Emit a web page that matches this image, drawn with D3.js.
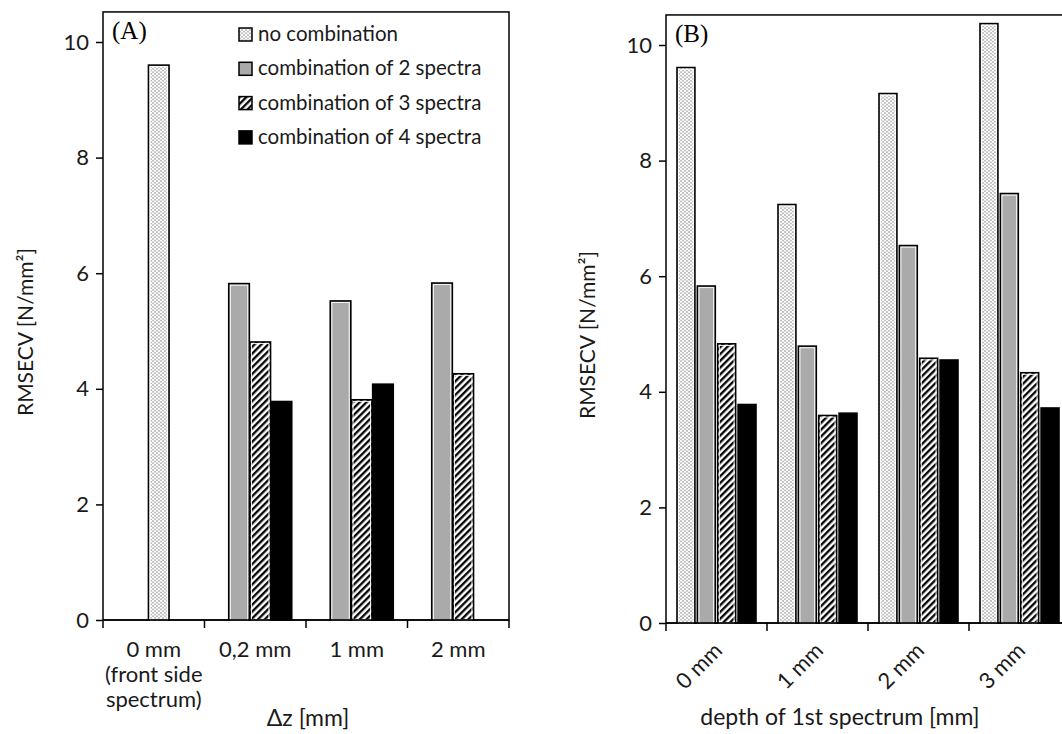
<!DOCTYPE html>
<html>
<head>
<meta charset="utf-8">
<script src="https://cdn.jsdelivr.net/npm/d3@7"></script>
<style>
    body {margin: 0; background: #fff;}
    text {font-family: Lato, "Open Sans", sans-serif; fill: #1a1a1a;}
    .panel_label {font-family: "Liberation Serif", serif; fill: #000;}
</style>
</head>
<body>
<div id="chart"></div>
<script>
// categories
var catsA = ["0 mm", "0,2 mm", "1 mm", "2 mm"];
var catsALines = [["0 mm", "(front side", "spectrum)"], ["0,2 mm"], ["1 mm"], ["2 mm"]];
var catsB = ["0 mm", "1 mm", "2 mm", "3 mm"];
var seriesNames = ["no combination", "combination of 2 spectra", "combination of 3 spectra", "combination of 4 spectra"];

// (A) RMSECV per delta z
var noCombA = [9.60, null, null, null];
var comb2A = [null, 5.82, 5.52, 5.83];
var comb3A = [null, 4.81, 3.81, 4.26];
var comb4A = [null, 3.78, 4.08, null];

// (B) RMSECV per depth of 1st spectrum
var noCombB = [9.61, 7.24, 9.16, 10.37];
var comb2B = [5.83, 4.79, 6.53, 7.43];
var comb3B = [4.83, 3.59, 4.58, 4.33];
var comb4B = [3.78, 3.63, 4.55, 3.72];

var yTicks = [0, 2, 4, 6, 8, 10];

var width = 1062;
var height = 734;

var svg = d3.select("#chart").append("svg").attr("width", width).attr("height", height);

// patterns
var defs = svg.append("defs");
var dots = defs.append("pattern").attr("id", "dots")
    .attr("patternUnits", "userSpaceOnUse").attr("width", 4).attr("height", 3.4);
dots.append("rect").attr("width", 4).attr("height", 3.4).attr("fill", "#fff");
dots.append("circle").attr("cx", 1).attr("cy", 0.85).attr("r", 0.55).attr("fill", "#333");
dots.append("circle").attr("cx", 3).attr("cy", 2.55).attr("r", 0.55).attr("fill", "#333");

var hatch = defs.append("pattern").attr("id", "hatch")
    .attr("patternUnits", "userSpaceOnUse").attr("width", 4.8).attr("height", 4.8)
    .attr("patternTransform", "rotate(45)");
hatch.append("rect").attr("width", 4.8).attr("height", 4.8).attr("fill", "#fff");
hatch.append("line").attr("x1", 1.2).attr("x2", 1.2).attr("y1", 0).attr("y2", 4.8)
    .attr("stroke", "#000").attr("stroke-width", 2.3);

var fills = ["url(#dots)", "#aaaaaa", "url(#hatch)", "#000"];

function drawPanel(opt) {
    var g = svg.append("g");

    var y = d3.scaleLinear().domain([0, 10]).range([opt.yBottom, opt.y10]);
    var xb = d3.scaleBand().domain(opt.cats).range([opt.x0, opt.x1]);
    var xs = d3.scaleBand().domain(d3.range(opt.nSlots)).range([0, opt.groupWidth]).paddingInner(opt.pad);
    var off = (xb.bandwidth() - opt.groupWidth) / 2 + opt.shift;

    var yTop = y(10.52);

    // frame
    g.append("rect")
        .attr("x", opt.x0).attr("y", yTop)
        .attr("width", opt.x1 - opt.x0).attr("height", opt.yBottom - yTop)
        .attr("fill", "none").attr("stroke", "#000").attr("stroke-width", 1.5);

    // bars
    var bars = [];
    opt.values.forEach(function (arr, s) {
        arr.forEach(function (v, i) {
            if (v !== null) bars.push({s: s, i: i, v: v});
        });
    });

    var bx = function (d) { return xb(opt.cats[d.i]) + off + xs(opt.slotOf[d.s]); };

    g.selectAll(".bar").data(bars).enter().append("rect")
        .attr("class", "bar")
        .attr("x", bx)
        .attr("y", function (d) { return y(d.v); })
        .attr("width", xs.bandwidth())
        .attr("height", function (d) { return opt.yBottom - y(d.v); })
        .attr("fill", function (d) { return fills[d.s]; })
        .attr("stroke", "#000").attr("stroke-width", 1.6);

    g.selectAll(".bar_in").data(bars.filter(function (d) { return d.s !== 3; })).enter().append("rect")
        .attr("class", "bar_in")
        .attr("x", function (d) { return bx(d) + 1.6; })
        .attr("y", function (d) { return y(d.v) + 1.6; })
        .attr("width", xs.bandwidth() - 3.2)
        .attr("height", function (d) { return opt.yBottom - y(d.v) - 1.6; })
        .attr("fill", "none").attr("stroke", "#fff").attr("stroke-width", 0.9);

    // y axis
    var yAxis = g.append("g").attr("transform", "translate(" + opt.x0 + ",0)")
        .call(d3.axisLeft(y).tickValues(yTicks).tickSize(7).tickPadding(7));
    yAxis.select(".domain").remove();
    yAxis.selectAll("line").attr("stroke", "#000").attr("stroke-width", 1.5);
    yAxis.selectAll("text").attr("font-size", "22px").attr("font-family", "Lato").attr("fill", "#1a1a1a");

    // x axis line and category separators
    g.append("line").attr("x1", opt.x0).attr("x2", opt.x1)
        .attr("y1", opt.yBottom).attr("y2", opt.yBottom)
        .attr("stroke", "#000").attr("stroke-width", 1.5);
    var edges = opt.cats.map(function (c) { return xb(c); }).concat([xb.range()[1]]);
    g.selectAll(".xtick").data(edges).enter().append("line")
        .attr("class", "xtick")
        .attr("x1", function (d) { return d; }).attr("x2", function (d) { return d; })
        .attr("y1", opt.yBottom).attr("y2", opt.yBottom + 8)
        .attr("stroke", "#000").attr("stroke-width", 1.5);

    // y title
    g.append("text")
        .attr("transform", "translate(" + opt.yTitleX + "," + opt.yTitleY + ") rotate(-90)")
        .attr("text-anchor", "middle").attr("font-size", "21px")
        .text("RMSECV [N/mm²]");

    // panel label
    g.append("text").attr("class", "panel_label")
        .attr("x", opt.x0 + 9).attr("y", yTop + 27)
        .attr("font-size", "25px")
        .text(opt.label);

    return {g: g, xb: xb, y: y};
}

// panel A
var pA = drawPanel({
    cats: catsA, values: [noCombA, comb2A, comb3A, comb4A],
    x0: 103, x1: 509, yBottom: 620, y10: 42,
    nSlots: 3, slotOf: [1, 0, 1, 2], groupWidth: 63, pad: 0.03, shift: 5,
    yTitleX: 33, yTitleY: 332, label: "(A)"
});

pA.g.selectAll(".xlab").data(catsA).enter().append("text")
    .attr("class", "xlab")
    .attr("text-anchor", "middle")
    .attr("font-size", "22px")
    .each(function (d, i) {
        var t = d3.select(this);
        catsALines[i].forEach(function (line, k) {
            t.append("tspan")
                .attr("x", pA.xb(d) + pA.xb.bandwidth() / 2)
                .attr("y", 657 + k * 25)
                .text(line);
        });
    });

pA.g.append("text").attr("x", 308).attr("y", 726)
    .attr("text-anchor", "middle").attr("font-size", "23px")
    .text("Δz [mm]");

// legend
var legend = pA.g.selectAll(".legend").data(seriesNames).enter().append("g")
    .attr("class", "legend")
    .attr("transform", function (d, i) { return "translate(239," + (41 + i * 34.3) + ")"; });
legend.append("rect")
    .attr("x", 0).attr("y", -13).attr("width", 13).attr("height", 13)
    .attr("fill", function (d, i) { return fills[i]; })
    .attr("stroke", "#000").attr("stroke-width", 1.5);
legend.append("text")
    .attr("x", 19).attr("y", 0)
    .attr("font-size", "20.5px")
    .text(function (d) { return d; });

// panel B
var pB = drawPanel({
    cats: catsB, values: [noCombB, comb2B, comb3B, comb4B],
    x0: 666, x1: 1070, yBottom: 623, y10: 45,
    nSlots: 4, slotOf: [0, 1, 2, 3], groupWidth: 79, pad: 0.12, shift: 0,
    yTitleX: 595, yTitleY: 335, label: "(B)"
});

pB.g.selectAll(".xlab").data(catsB).enter().append("text")
    .attr("class", "xlab")
    .attr("text-anchor", "end")
    .attr("font-size", "22px")
    .attr("transform", function (d) {
        return "translate(" + (pB.xb(d) + pB.xb.bandwidth() / 2 + 7) + ",652) rotate(-45)";
    })
    .text(function (d) { return d; });

pB.g.append("text").attr("x", 840).attr("y", 725)
    .attr("text-anchor", "middle").attr("font-size", "23px")
    .text("depth of 1st spectrum [mm]");
</script>
</body>
</html>
